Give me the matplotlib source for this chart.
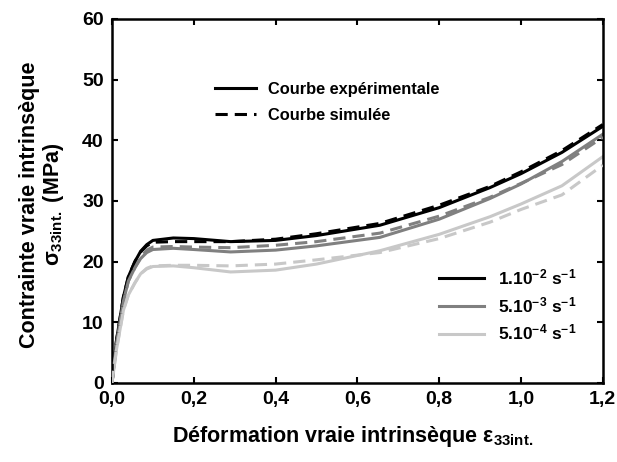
import matplotlib
matplotlib.use("Agg")
import matplotlib.pyplot as plt
from matplotlib.lines import Line2D

plt.rcParams["font.family"] = ["Liberation Sans", "DejaVu Sans"]
plt.rcParams["font.weight"] = "bold"
plt.rcParams["mathtext.default"] = "regular"

# déformation vraie et contraintes (MPa)
eps_exp = [0.0, 0.011, 0.028, 0.04, 0.056, 0.07, 0.085, 0.1, 0.15, 0.2, 0.29, 0.4, 0.5, 0.655, 0.8, 0.924, 1.0, 1.1, 1.2]
sig_exp_1e2 = [0.0, 7.0, 14.2, 17.5, 20.0, 21.7, 22.8, 23.5, 23.9, 23.8, 23.3, 23.5, 24.3, 26.0, 28.9, 32.2, 34.5, 38.0, 42.3]
sig_exp_5e3 = [0.0, 6.5, 13.5, 16.8, 19.0, 20.5, 21.5, 22.0, 22.2, 22.0, 21.6, 21.9, 22.6, 24.0, 27.0, 30.4, 32.8, 36.5, 41.0]
sig_exp_5e4 = [0.0, 5.5, 12.0, 14.5, 16.5, 18.0, 18.8, 19.2, 19.3, 19.0, 18.3, 18.6, 19.6, 21.8, 24.5, 27.4, 29.5, 32.5, 37.3]

eps_sim = [0.0, 0.011, 0.028, 0.04, 0.056, 0.07, 0.085, 0.1, 0.15, 0.2, 0.29, 0.4, 0.5, 0.655, 0.8, 0.924, 1.0, 1.1, 1.2]
sig_sim_1e2 = [0.0, 7.0, 14.2, 17.5, 20.0, 21.6, 22.6, 23.2, 23.3, 23.3, 23.3, 23.7, 24.6, 26.3, 29.3, 32.4, 34.8, 38.3, 42.6]
sig_sim_5e3 = [0.0, 6.5, 13.5, 16.8, 19.0, 20.7, 21.9, 22.4, 22.5, 22.4, 22.3, 22.7, 23.3, 24.7, 27.5, 30.6, 32.9, 36.0, 40.5]
sig_sim_5e4 = [0.0, 5.5, 12.0, 14.5, 16.5, 18.0, 18.9, 19.3, 19.4, 19.4, 19.3, 19.6, 20.3, 21.5, 23.8, 26.5, 28.6, 31.0, 35.9]

vitesses = ["1.10$^{-2}$ s$^{-1}$", "5.10$^{-3}$ s$^{-1}$", "5.10$^{-4}$ s$^{-1}$"]
couleurs = ["#000000", "#808080", "#c8c8c8"]

fig = plt.figure(figsize=(6.17, 4.62), dpi=100)
ax = fig.add_axes([0.1815, 0.171, 0.7955, 0.788])

lw = 2.2
dash = (0, (4.0, 2.3))
for s_exp, s_sim, c in zip([sig_exp_1e2, sig_exp_5e3, sig_exp_5e4],
                           [sig_sim_1e2, sig_sim_5e3, sig_sim_5e4], couleurs):
    ax.plot(eps_sim, s_sim, color=c, lw=lw, ls=dash, zorder=3)
    ax.plot(eps_exp, s_exp, color=c, lw=lw, zorder=2)

ax.set_xlim(0, 1.2)
ax.set_ylim(0, 60)
ax.set_xticks([0.0, 0.2, 0.4, 0.6, 0.8, 1.0, 1.2])
ax.set_xticklabels(["0,0", "0,2", "0,4", "0,6", "0,8", "1,0", "1,2"])
ax.set_yticks(range(0, 61, 10))
ax.tick_params(direction="in", length=4, width=1.5, labelsize=14,
               top=True, right=True, pad=6)
for lab in ax.get_xticklabels() + ax.get_yticklabels():
    lab.set_fontweight("bold")
for sp in ax.spines.values():
    sp.set_linewidth(1.8)

ax.set_xlabel("Déformation vraie intrinsèque ε$_{33int.}$", fontsize=15.5,
              fontweight="bold")
ax.xaxis.set_label_coords(0.49, -0.112)
ax.set_ylabel("Contrainte vraie intrinsèque\nσ$_{33int.}$ (MPa)", fontsize=15.5,
              fontweight="bold", linespacing=1.05)
ax.yaxis.set_label_coords(-0.094, 0.49)

# légende du type de courbe
h1 = [Line2D([], [], color="k", lw=lw), Line2D([], [], color="k", lw=lw, ls=dash)]
leg1 = ax.legend(h1, ["Courbe expérimentale", "Courbe simulée"], loc="upper left",
                 bbox_to_anchor=(0.18, 0.868), frameon=False,
                 handlelength=2.5, handletextpad=0.75, labelspacing=0.7,
                 prop={"weight": "bold", "size": 11.8})
ax.add_artist(leg1)

# légende des vitesses de déformation
h2 = [Line2D([], [], color=c, lw=lw) for c in couleurs]
ax.legend(h2, vitesses, loc="upper left", bbox_to_anchor=(0.635, 0.36),
          frameon=False, handlelength=2.6, handletextpad=0.8, labelspacing=0.45,
          prop={"weight": "bold", "size": 12.5})

fig.savefig("out.png", dpi=100)
